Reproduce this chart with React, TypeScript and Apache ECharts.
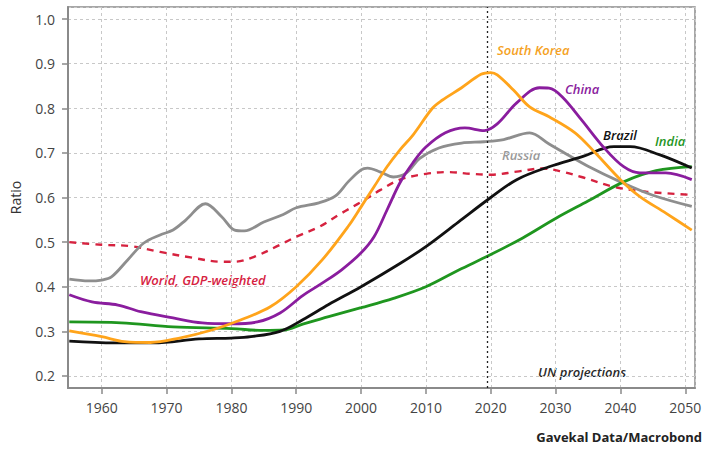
import React, { useEffect, useRef } from "react";
import * as echarts from "echarts";

const xTicks = [1960, 1970, 1980, 1990, 2000, 2010, 2020, 2030, 2040, 2050];
const yTicks = [0.2, 0.3, 0.4, 0.5, 0.6, 0.7, 0.8, 0.9, 1.0];

const russia: [number, number][] = [
  [1955, 0.417], [1958, 0.413], [1960, 0.415], [1961.5, 0.422], [1964, 0.46], [1966.5, 0.498],
  [1969, 0.516], [1971, 0.527], [1973, 0.55], [1976, 0.586], [1978.5, 0.557], [1980.5, 0.527],
  [1982, 0.525], [1985, 0.545], [1988, 0.562], [1990, 0.577], [1993.5, 0.588], [1996, 0.603],
  [1998, 0.635], [2000, 0.662], [2001, 0.666], [2003, 0.657], [2005, 0.646], [2007, 0.655],
  [2009, 0.687], [2012, 0.711], [2015.5, 0.722], [2019, 0.725], [2022, 0.73], [2026, 0.745],
  [2029, 0.72], [2031, 0.703], [2035, 0.67], [2040, 0.635], [2045, 0.605], [2051, 0.58],
];
const china: [number, number][] = [
  [1955, 0.382], [1958.5, 0.366], [1962.5, 0.359], [1966, 0.344], [1971, 0.33], [1975.5, 0.319],
  [1980, 0.317], [1984, 0.321], [1987.5, 0.341], [1991, 0.38], [1994, 0.408], [1997, 0.438],
  [2000, 0.476], [2002, 0.512], [2004, 0.572], [2006, 0.633], [2008, 0.678], [2010, 0.713],
  [2013, 0.745], [2016, 0.756], [2019, 0.75], [2021, 0.765], [2024, 0.812], [2027.5, 0.846],
  [2029, 0.845], [2031, 0.826], [2034, 0.774], [2037.5, 0.711], [2040.5, 0.669], [2043, 0.655],
  [2047, 0.655], [2051, 0.64],
];
const southKorea: [number, number][] = [
  [1955, 0.301], [1960, 0.288], [1963.5, 0.277], [1967.5, 0.275], [1972, 0.285], [1977, 0.303],
  [1981.5, 0.326], [1986, 0.355], [1990, 0.4], [1994, 0.46], [1998, 0.535], [2000, 0.579],
  [2002, 0.624], [2004, 0.669], [2006, 0.707], [2008, 0.74], [2011, 0.8], [2012.5, 0.818],
  [2015.5, 0.846], [2018.5, 0.876], [2020, 0.88], [2021, 0.875], [2023.5, 0.841], [2026, 0.803],
  [2029, 0.781], [2033, 0.745], [2036, 0.702], [2040, 0.64], [2043, 0.602], [2047, 0.565],
  [2051, 0.527],
];
const brazil: [number, number][] = [
  [1955, 0.278], [1962, 0.274], [1968, 0.274], [1975, 0.283], [1980, 0.285], [1983, 0.288],
  [1987.5, 0.3], [1991, 0.326], [1995, 0.36], [2000, 0.4], [2006, 0.452], [2010, 0.49],
  [2015, 0.545], [2020, 0.6], [2024, 0.64], [2029, 0.669], [2034, 0.691], [2039, 0.714],
  [2041.5, 0.714], [2046, 0.696], [2051, 0.666],
];
const india: [number, number][] = [
  [1955, 0.321], [1963, 0.319], [1971, 0.31], [1980, 0.306], [1985, 0.302], [1988, 0.303],
  [1991, 0.316], [1995, 0.333], [2000, 0.353], [2005, 0.374], [2010, 0.4], [2015, 0.437],
  [2020, 0.472], [2025, 0.51], [2030, 0.553], [2035, 0.592], [2040.5, 0.635], [2045.5, 0.66],
  [2051, 0.669],
];
const world: [number, number][] = [
  [1955, 0.5], [1960, 0.494], [1964.5, 0.491], [1969, 0.478], [1974, 0.465], [1978.5, 0.456],
  [1980.5, 0.456], [1983.5, 0.467], [1987.5, 0.494], [1990, 0.512], [1993.5, 0.534], [1997, 0.565],
  [2000, 0.59], [2003, 0.617], [2006, 0.64], [2010, 0.653], [2013.5, 0.657], [2017, 0.653],
  [2020, 0.651], [2024, 0.658], [2028, 0.665], [2031, 0.658], [2034, 0.646], [2039, 0.624],
  [2044, 0.613], [2051, 0.606],
];
const projectionStart = 2019.5;

const FONT = "'Open Sans', 'DejaVu Sans', sans-serif";

export default function App() {
  const ref = useRef<HTMLDivElement>(null);
  useEffect(() => {
    if (!ref.current) return;
    const chart = echarts.init(ref.current, null, { renderer: "svg" });
    const line = (name: string, data: [number, number][], color: string, extra: any = {}) => ({
      type: "line",
      name,
      data,
      smooth: 0.35,
      showSymbol: false,
      symbol: "none",
      lineStyle: { color, width: 2.8, ...(extra.lineStyle || {}) },
      z: extra.z || 2,
      ...(extra.markLine ? { markLine: extra.markLine } : {}),
    });
    const labelText = (text: string, x: number, y: number, color: string) => ({
      type: "text",
      x,
      y,
      style: {
        text,
        fill: color,
        font: `italic 600 13px ${FONT}`,
        textVerticalAlign: "middle",
      },
    });
    chart.setOption({
      animation: false,
      grid: {
        left: 66,
        right: 22,
        top: 7,
        bottom: 63,
        show: true,
        borderColor: "#8a8a8a",
        borderWidth: 1.5,
      },
      xAxis: {
        type: "value",
        min: 1954.8,
        max: 2051.5,
        splitNumber: 10,
        axisLine: { show: true, lineStyle: { color: "#8a8a8a", width: 2 } },
        axisTick: { show: true, length: 6, lineStyle: { color: "#8a8a8a", width: 1.5 } },
        axisLabel: {
          show: true,
          margin: 12,
          color: "#444",
          fontSize: 14,
          fontFamily: FONT,
          showMinLabel: false,
          showMaxLabel: false,
          formatter: (v: number) => (xTicks.includes(Math.round(v)) && Math.abs(v - Math.round(v)) < 1e-6 ? String(Math.round(v)) : ""),
        },
        splitLine: { show: true, lineStyle: { color: "#c8c8c8", type: [3, 3], width: 1 } },
      },
      yAxis: {
        type: "value",
        min: 0.173,
        max: 1.027,
        splitNumber: 9,
        name: "Ratio",
        nameLocation: "middle",
        nameRotate: 90,
        nameGap: 46,
        nameTextStyle: { color: "#333", fontSize: 14, fontFamily: FONT },
        axisLine: { show: true, lineStyle: { color: "#8a8a8a", width: 2 } },
        axisTick: { show: true, length: 6, lineStyle: { color: "#8a8a8a", width: 1.5 } },
        axisLabel: {
          show: true,
          margin: 13,
          color: "#444",
          fontSize: 14,
          fontFamily: FONT,
          showMinLabel: false,
          showMaxLabel: false,
          formatter: (v: number) => {
            const hit = yTicks.find((t) => Math.abs(t - v) < 1e-6);
            return hit !== undefined ? hit.toFixed(1) : "";
          },
        },
        splitLine: { show: true, lineStyle: { color: "#c8c8c8", type: [3, 3], width: 1 } },
      },
      series: [
        line("World, GDP-weighted", world, "#d6223f", {
          lineStyle: { type: [7, 6], width: 2.4 },
          markLine: {
            silent: true,
            symbol: "none",
            label: { show: false },
            lineStyle: { color: "#222", type: [2, 3], width: 1.3 },
            data: [{ xAxis: projectionStart }],
          },
        }),
        line("Russia", russia, "#8e8e8e"),
        line("India", india, "#1f961f"),
        line("Brazil", brazil, "#111111", { z: 3 }),
        line("China", china, "#8a1d9e", { z: 4 }),
        line("South Korea", southKorea, "#ffa41b", { z: 5 }),
      ],
      graphic: [
        labelText("South Korea", 497, 50, "#f5a21f"),
        labelText("China", 565, 89, "#8a1d9e"),
        labelText("Brazil", 603, 135, "#111111"),
        labelText("India", 655, 141, "#1f961f"),
        labelText("Russia", 502, 155, "#999999"),
        labelText("World, GDP-weighted", 140, 280, "#d6223f"),
        labelText("UN projections", 538, 372, "#2a2a2a"),
        {
          type: "text",
          right: 15,
          top: 430,
          style: {
            text: "Gavekal Data/Macrobond",
            fill: "#222",
            font: `bold 13px ${FONT}`,
          },
        },
      ],
    });
    return () => chart.dispose();
  }, []);
  return (
    <div
      ref={ref}
      style={{ position: "fixed", left: 0, top: 0, width: 717, height: 451, background: "#fff" }}
    />
  );
}
